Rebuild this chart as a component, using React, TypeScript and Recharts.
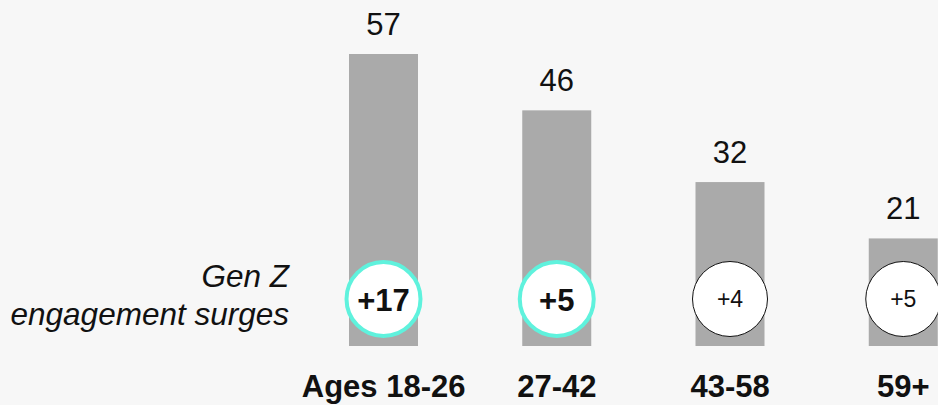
import React from 'react';
import { BarChart, Bar, XAxis, YAxis, LabelList } from 'recharts';

const categories = ['Ages 18-26', '27-42', '43-58', '59+'];
const values = [57, 46, 32, 21];
const changes = ['+17', '+5', '+4', '+5'];
const highlighted = [true, true, false, false];

const data = categories.map((c, i) => ({
  category: c,
  value: values[i],
  change: changes[i],
  highlight: highlighted[i],
}));

const FONT = '"Liberation Sans", Arial, sans-serif';
const BAR_COLOR = '#aaaaaa';
const TEAL = '#5ff2dd';

const BarShape = (props: any) => {
  const { x, y, width, height, payload } = props;
  const cx = x + width / 2;
  const cy = y + height - 47;
  const hl = payload.highlight;
  return (
    <g>
      <rect x={x} y={y} width={width} height={height} fill={BAR_COLOR} />
      <circle
        cx={cx}
        cy={cy}
        r={hl ? 37 : 37.5}
        fill="#ffffff"
        stroke={hl ? TEAL : '#111111'}
        strokeWidth={hl ? 4 : 1}
      />
      <text
        x={cx}
        y={cy}
        dy={hl ? 1 : 0}
        textAnchor="middle"
        dominantBaseline="central"
        fontFamily={FONT}
        fontSize={hl ? 31 : 23}
        fontWeight={hl ? 'bold' : 'normal'}
        fill="#111111"
      >
        {payload.change}
      </text>
    </g>
  );
};

const CategoryTick = (props: any) => {
  const { x, y, payload } = props;
  return (
    <text
      x={x}
      y={y}
      dy={43}
      textAnchor="middle"
      fontFamily={FONT}
      fontSize={31}
      fontWeight="bold"
      fill="#111111"
    >
      {payload.value}
    </text>
  );
};

export default function App() {
  return (
    <div
      style={{
        position: 'relative',
        width: 938,
        height: 405,
        overflow: 'hidden',
        background: '#f7f7f7',
      }}
    >
      <style>{`body{margin:0;}`}</style>
      <BarChart
        width={990}
        height={405}
        data={data}
        margin={{ top: 54, right: 0, bottom: 0, left: 297 }}
      >
        <XAxis
          dataKey="category"
          axisLine={false}
          tickLine={false}
          height={59}
          interval={0}
          tick={<CategoryTick />}
        />
        <YAxis hide domain={[0, 57]} />
        <Bar
          dataKey="value"
          barSize={69}
          isAnimationActive={false}
          shape={<BarShape />}
        >
          <LabelList
            dataKey="value"
            position="top"
            offset={19}
            fontFamily={FONT}
            fontSize={31}
            fill="#111111"
          />
        </Bar>
      </BarChart>
      <div
        style={{
          position: 'absolute',
          left: 0,
          top: 257,
          width: 289,
          textAlign: 'right',
          fontFamily: FONT,
          fontStyle: 'italic',
          fontSize: 31.5,
          lineHeight: '38px',
          color: '#111111',
        }}
      >
        Gen Z
        <br />
        engagement surges
      </div>
    </div>
  );
}
